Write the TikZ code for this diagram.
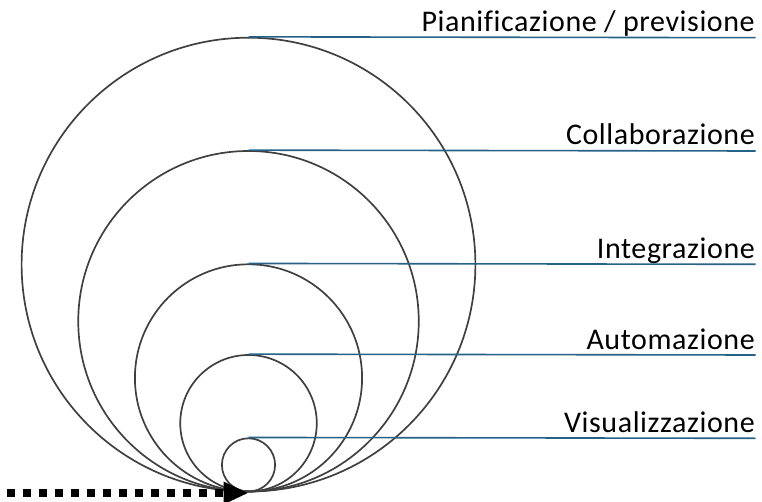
\documentclass[tikz,border=0pt]{standalone}
\usepackage{fontspec}
\setmainfont{Carlito}[Ligatures={NoCommon},LetterSpace=2.0]
\usetikzlibrary{arrows.meta}
\definecolor{leadc}{RGB}{38,98,136}
\definecolor{ringc}{RGB}{64,64,64}
\tikzset{
  ring/.style={draw=ringc, line width=1.7pt, circle, inner sep=0pt, minimum size=#1},
  leader/.style={draw=leadc, line width=1.6pt},
  lbl/.style={anchor=base east, inner sep=0pt, font=\fontsize{30}{34}\selectfont, text=black},
  dotarrow/.style={line width=8pt, dash pattern=on 8pt off 8pt, -{Triangle[length=25pt 0 0, width=21pt 0 0]}}
}
\begin{document}
\begin{tikzpicture}[x=1pt,y=-1pt]
\useasboundingbox (0,0) rectangle (762,502);
% circles (centre x 248.5, all tangent at bottom y 491.5)
\node[ring=453.8pt] (c1) at (248.5,264.6) {};
\node[ring=340.5pt] (c2) at (248.5,321.25) {};
\node[ring=227.2pt] (c3) at (248.5,377.9) {};
\node[ring=136.5pt] (c4) at (248.5,423.25) {};
\node[ring=53.2pt] (c5) at (248.5,464.9) {};
% leader ends
\coordinate (e1) at (755.5,37.7);
\coordinate (e2) at (755.5,151);
\coordinate (e3) at (755.5,264.3);
\coordinate (e4) at (755.5,355);
\coordinate (e5) at (755.5,438.3);
\draw[leader] (c1.north) -- (e1);
\draw[leader] (c2.north) -- (e2);
\draw[leader] (c3.north) -- (e3);
\draw[leader] (c4.north) -- (e4);
\draw[leader] (c5.north) -- (e5);
\node[lbl] (t1) at (755,31.7) {Pianificazione / previsione};
\node[lbl] (t2) at (755,145) {Collaborazione};
\node[lbl] (t3) at (755,258.3) {Integrazione};
\node[lbl] (t4) at (755,349) {Automazione};
\node[lbl] (t5) at (755,432.3) {Visualizzazione};
% dotted arrow
\coordinate (s) at (7,493);
\coordinate (tip) at (248.5,493);
\draw[dotarrow] (s) -- (tip);
\end{tikzpicture}
\end{document}
